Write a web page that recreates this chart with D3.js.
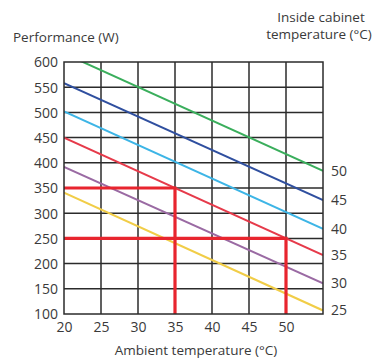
<!DOCTYPE html>
<html><head><meta charset="utf-8">
<script src="https://cdn.jsdelivr.net/npm/d3@7"></script>
<style>
html,body{margin:0;padding:0;background:#fff;}
svg text{font-family:"Open Sans",Lato,sans-serif;fill:#3a3a3a;}
</style></head>
<body>
<svg id="c" width="380" height="363"></svg>
<script>
// Data
const ambientTicks = [20, 25, 30, 35, 40, 45, 50];
const powerTicks = [100, 150, 200, 250, 300, 350, 400, 450, 500, 550, 600];
const cabinetTemps = ["50", "45", "40", "35", "30", "25"];
const seriesColors = ["#3aae5c", "#2f4f9f", "#3db5e6", "#e63a4a", "#9a6aa3", "#f1cd47"];
// Performance at ambient 20°C and 55°C for each inside cabinet temperature
const ambientEnds = [20, 55];
const perf50 = [617, 384];
const perf45 = [558, 326];
const perf40 = [502, 269];
const perf35 = [450, 217];
const perf30 = [392, 161];
const perf25 = [341, 107];
const series = [perf50, perf45, perf40, perf35, perf30, perf25];
// Highlighted reading examples: [ambient, power]
const highlights = [[35, 350], [50, 250]];

const svg = d3.select("#c");
const x = d3.scaleLinear().domain([20, 55]).range([64, 323]);
const y = d3.scaleLinear().domain([100, 600]).range([314, 62]);

const defs = svg.append("defs");
defs.append("clipPath").attr("id","clip").append("rect")
  .attr("x", x(20)).attr("y", y(600)).attr("width", x(55)-x(20)).attr("height", y(100)-y(600));

// grid
const grid = svg.append("g");
const gridX = [25,30,35,40,45,50];
const gridY = [150,200,250,300,350,400,450,500,550];
grid.selectAll("line.v").data(gridX).join("line")
  .attr("x1", d=>x(d)).attr("x2", d=>x(d)).attr("y1", y(600)).attr("y2", y(100))
  .attr("stroke", "#2b2b2b").attr("stroke-width", 1.5);
grid.selectAll("line.h").data(gridY).join("line")
  .attr("y1", d=>y(d)).attr("y2", d=>y(d)).attr("x1", x(20)).attr("x2", x(55))
  .attr("stroke", "#2b2b2b").attr("stroke-width", 1.5);

// series lines
const lineGen = d3.line().x(d=>x(d[0])).y(d=>y(d[1]));
svg.append("g").attr("clip-path","url(#clip)").selectAll("path").data(series).join("path")
  .attr("d", d => lineGen(ambientEnds.map((a,i)=>[a, d[i]])))
  .attr("fill","none").attr("stroke", (d,i)=>seriesColors[i]).attr("stroke-width", 2);

// highlight lines
const hl = svg.append("g");
highlights.forEach(([a,p])=>{
  hl.append("path")
    .attr("d", lineGen([[20,p],[a,p],[a,100]]))
    .attr("fill","none").attr("stroke","#e8252e").attr("stroke-width",3.2);
});

// border
svg.append("rect").attr("x", x(20)).attr("y", y(600)).attr("width", x(55)-x(20)).attr("height", y(100)-y(600))
  .attr("fill","none").attr("stroke","#2b2b2b").attr("stroke-width",1.5);

// axes
const yAxis = d3.axisLeft(y).tickValues(powerTicks).tickSize(0).tickPadding(6);
const gy = svg.append("g").attr("transform",`translate(${x(20)},0)`).call(yAxis);
gy.select(".domain").remove();
gy.selectAll("text").attr("font-size", 14).attr("dy", "0.35em").style("font-family","'Open Sans',Lato,sans-serif").attr("fill","#3a3a3a");

const xAxis = d3.axisBottom(x).tickValues(ambientTicks).tickSize(0).tickPadding(8);
const gx = svg.append("g").attr("transform",`translate(0,${y(100)})`).call(xAxis);
gx.select(".domain").remove();
gx.selectAll("text").attr("font-size", 14).style("font-family","'Open Sans',Lato,sans-serif").attr("fill","#3a3a3a");

// right labels
svg.append("g").selectAll("text").data(series).join("text")
  .attr("x", x(55)+8).attr("y", d=>y(d[1])).attr("dy","0.35em")
  .attr("font-size", 14).text((d,i)=>cabinetTemps[i]);

// titles
svg.append("text").attr("x", 13).attr("y", 42).attr("font-size", 13.5).text("Performance (W)");
svg.append("text").attr("x", 321).attr("y", 22).attr("text-anchor","middle").attr("font-size", 13.5).text("Inside cabinet");
svg.append("text").attr("x", 319).attr("y", 39).attr("text-anchor","middle").attr("font-size", 13.5).text("temperature (°C)");
svg.append("text").attr("x", 196).attr("y", 355).attr("text-anchor","middle").attr("font-size", 13.5).text("Ambient temperature (°C)");
</script>
</body></html>
